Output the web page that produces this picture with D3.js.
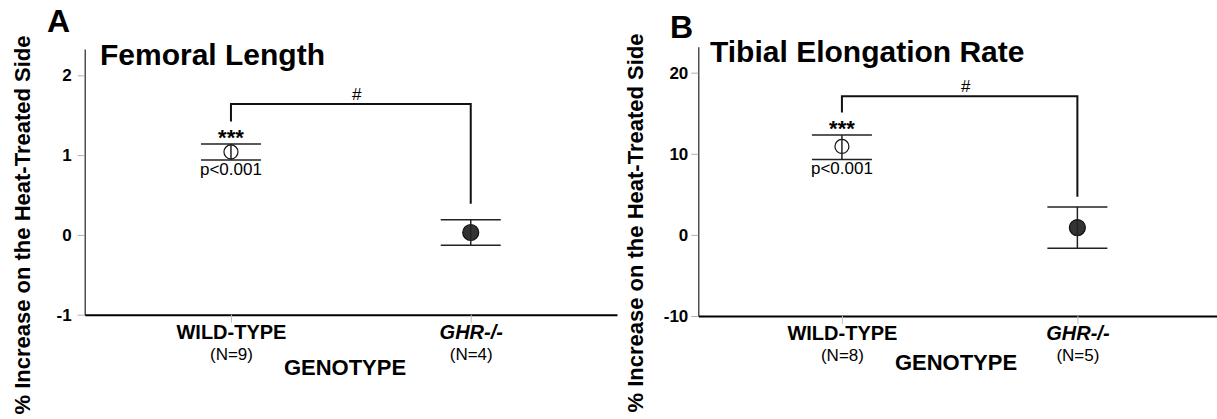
<!DOCTYPE html>
<html>
<head>
<meta charset="utf-8">
<script src="https://cdn.jsdelivr.net/npm/d3@7"></script>
<style>
  body { margin: 0; background: #fff; }
  svg { display: block; font-family: Arial, "Liberation Sans", Helvetica, sans-serif; }
</style>
</head>
<body>
<svg id="chart" width="1217" height="419"></svg>
<script>
"use strict";

// categories (same for both panels)
const genotypes = ["WILD-TYPE", "GHR-/-"];

// panel A : femoral length, % increase
const femurN = ["(N=9)", "(N=4)"];
const femurMean = [1.04, 0.03];
const femurLow = [0.94, -0.13];
const femurHigh = [1.14, 0.19];
const femurTicks = [-1, 0, 1, 2];
const femurBracket = [1.42, 1.64, 0.39]; // left end, bar, right end

// panel B : tibial elongation rate, % increase
const tibiaN = ["(N=8)", "(N=5)"];
const tibiaMean = [10.9, 0.9];
const tibiaLow = [9.3, -1.65];
const tibiaHigh = [12.3, 3.45];
const tibiaTicks = [-10, 0, 10, 20];
const tibiaBracket = [15.1, 17.1, 4.7];

const yTitle = "% Increase on the Heat-Treated Side";
const xTitle = "GENOTYPE";
const stars = "***";
const pText = "p<0.001";
const hashText = "#";

const svg = d3.select("#chart");

function panel(o) {
  const g = svg.append("g");

  const x = d3.scalePoint().domain(genotypes).range([o.left, o.right]).padding(0.61);
  const y = d3.scaleLinear().domain(o.yDomain).range([o.bottom, o.top]);

  // y axis
  const ya = g.append("g")
    .attr("transform", `translate(${o.left},0)`)
    .call(d3.axisLeft(y).tickValues(o.ticks).tickSize(7).tickPadding(o.tickPad)
      .tickSizeOuter(0).tickFormat(d => String(d)));
  ya.attr("font-family", null).attr("font-size", null);
  ya.select(".domain").attr("stroke", "#222").attr("stroke-width", 1.2);
  ya.selectAll(".tick line").attr("stroke", "#b0b0b0");
  ya.selectAll(".tick text")
    .attr("font-size", 17).attr("font-weight", "bold").attr("fill", "#000");

  // x axis
  const xa = g.append("g")
    .attr("transform", `translate(0,${o.bottom})`)
    .call(d3.axisBottom(x).tickSize(8).tickSizeOuter(0).tickFormat(""));
  xa.attr("font-family", null).attr("font-size", null);
  xa.select(".domain").attr("stroke", "#000").attr("stroke-width", 2);
  xa.selectAll(".tick line").attr("stroke", "#c0c0c0");
  xa.selectAll(".tick text").remove();
  xa.selectAll(".tick").append("text")
    .attr("y", 24).attr("text-anchor", "middle")
    .attr("font-size", 20).attr("font-weight", "bold")
    .attr("font-style", (d, i) => i == 1 ? "italic" : null)
    .attr("fill", "#000")
    .text(d => d);
  xa.selectAll(".tick").append("text")
    .attr("y", 45).attr("text-anchor", "middle")
    .attr("font-size", 17).attr("fill", "#000")
    .text((d, i) => o.n[i]);

  // axis titles
  g.append("text")
    .attr("x", o.gx).attr("y", o.gy)
    .attr("text-anchor", "middle")
    .attr("font-size", 22).attr("font-weight", "bold")
    .text(xTitle);

  g.append("text")
    .attr("transform", `translate(${o.ylx},${o.yly}) rotate(-90)`)
    .attr("text-anchor", "middle")
    .attr("font-size", 22).attr("font-weight", "bold")
    .text(yTitle);

  // panel letter + title
  g.append("text")
    .attr("x", o.lx).attr("y", o.ly)
    .attr("font-size", 32).attr("font-weight", "bold")
    .text(o.letter);
  g.append("text")
    .attr("x", o.tx).attr("y", o.ty)
    .attr("font-size", 30).attr("font-weight", "bold")
    .text(o.title);

  // bracket between the groups
  const bx0 = x(genotypes[0]), bx1 = x(genotypes[1]);
  g.append("path")
    .attr("fill", "none").attr("stroke", "#111").attr("stroke-width", 2)
    .attr("d", `M${bx0},${y(o.bracket[0])}V${y(o.bracket[1])}H${bx1}V${y(o.bracket[2])}`);
  g.append("text")
    .attr("x", (bx0 + bx1) / 2 + 6).attr("y", y(o.bracket[1]) - 4)
    .attr("text-anchor", "middle").attr("font-size", 17)
    .text(hashText);

  // points with error bars
  const pts = genotypes.map((k, i) => ({k: k, i: i, m: o.mean[i], lo: o.low[i], hi: o.high[i]}));

  const pg = g.append("g").selectAll("g").data(pts).join("g");
  pg.append("line")
    .attr("x1", d => x(d.k) - 30).attr("x2", d => x(d.k) + 30)
    .attr("y1", d => y(d.hi)).attr("y2", d => y(d.hi))
    .attr("stroke", "#222").attr("stroke-width", 1.5);
  pg.append("line")
    .attr("x1", d => x(d.k) - 30).attr("x2", d => x(d.k) + 30)
    .attr("y1", d => y(d.lo)).attr("y2", d => y(d.lo))
    .attr("stroke", "#222").attr("stroke-width", 1.5);
  pg.append("circle")
    .attr("cx", d => x(d.k)).attr("cy", d => y(d.m))
    .attr("r", d => d.i == 0 ? 7 : 8)
    .attr("fill", d => d.i == 0 ? "#fff" : "#333")
    .attr("stroke", "#111").attr("stroke-width", 1.2);
  pg.append("line")
    .attr("x1", d => x(d.k)).attr("x2", d => x(d.k))
    .attr("y1", d => y(d.lo)).attr("y2", d => y(d.hi))
    .attr("stroke", "#222").attr("stroke-width", 1.5);

  // significance text on wild type
  g.append("text")
    .attr("x", bx0).attr("y", y(o.high[0]) + 1)
    .attr("text-anchor", "middle").attr("font-size", 22).attr("font-weight", "bold")
    .text(stars);
  g.append("text")
    .attr("x", bx0).attr("y", y(o.low[0]) + 15)
    .attr("text-anchor", "middle").attr("font-size", 17)
    .text(pText);
}

panel({
  letter: "A", title: "Femoral Length",
  left: 84.7, right: 617, top: 49, bottom: 314.7,
  yDomain: [-1, 2.33], ticks: femurTicks, tickPad: 6,
  n: femurN, mean: femurMean, low: femurLow, high: femurHigh, bracket: femurBracket,
  lx: 47, ly: 32, tx: 100, ty: 65,
  gx: 345, gy: 375, ylx: 30, yly: 225
});

panel({
  letter: "B", title: "Tibial Elongation Rate",
  left: 698.3, right: 1221, top: 46.7, bottom: 316,
  yDomain: [-10, 23.2], ticks: tibiaTicks, tickPad: 3,
  n: tibiaN, mean: tibiaMean, low: tibiaLow, high: tibiaHigh, bracket: tibiaBracket,
  lx: 670, ly: 38, tx: 710, ty: 62,
  gx: 956, gy: 370, ylx: 643, yly: 223
});
</script>
</body>
</html>
